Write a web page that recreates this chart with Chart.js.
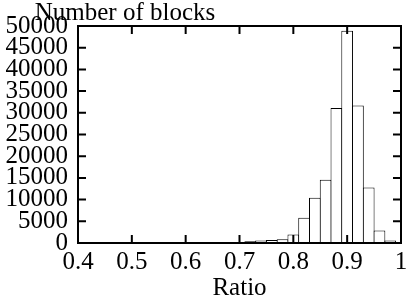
<!DOCTYPE html>
<html>
<head>
<meta charset="utf-8">
<script src="https://cdn.jsdelivr.net/npm/chart.js@4/dist/chart.umd.min.js"></script>
<style>
  html, body { margin: 0; padding: 0; background: #fff; }
  #wrap { width: 406px; height: 305px; }
</style>
</head>
<body>
<div id="wrap"><canvas id="hist"></canvas></div>
<script>
// ===== data: histogram of ratio, bin width 0.02 =====
const binCenters = [0.40, 0.42, 0.44, 0.46, 0.48, 0.50, 0.52, 0.54, 0.56, 0.58,
                    0.60, 0.62, 0.64, 0.66, 0.68, 0.70, 0.72, 0.74, 0.76, 0.78,
                    0.80, 0.82, 0.84, 0.86, 0.88, 0.90, 0.92, 0.94, 0.96, 0.98];
const blockCounts = [0, 0, 0, 0, 0, 0, 0, 0, 0, 0,
                     0, 0, 0, 80, 120, 200, 400, 600, 700, 850,
                     1950, 5800, 10400, 14600, 31100, 48900, 31700, 12800, 2900, 600];
const xTicks = { min: 0.4, max: 1.0, step: 0.1 };
const yTicks = { min: 0, max: 50000, step: 5000 };
const xTitle = 'Ratio';
const yTitle = 'Number of blocks';

const FONT = 'Liberation Serif';
Chart.defaults.font.family = FONT;
Chart.defaults.font.size = 25;
Chart.defaults.color = '#000';

// frame + inward ticks on all four sides (gnuplot style)
const framePlugin = {
    id: 'frame',
    afterDatasetsDraw(chart) {
        const { ctx, chartArea: a, scales: { x, y } } = chart;
        const len = 8;
        ctx.save();
        ctx.strokeStyle = '#000';
        ctx.lineWidth = 2;
        x.ticks.forEach(t => {
            const px = x.getPixelForValue(t.value);
            ctx.beginPath();
            ctx.moveTo(px, a.bottom); ctx.lineTo(px, a.bottom - len);
            ctx.moveTo(px, a.top); ctx.lineTo(px, a.top + len);
            ctx.stroke();
        });
        y.ticks.forEach(t => {
            const py = y.getPixelForValue(t.value);
            ctx.beginPath();
            ctx.moveTo(a.left, py); ctx.lineTo(a.left + len, py);
            ctx.moveTo(a.right, py); ctx.lineTo(a.right - len, py);
            ctx.stroke();
        });
        ctx.strokeRect(a.left, a.top, a.right - a.left, a.bottom - a.top);
        // y label sits above the axis
        ctx.fillStyle = '#000';
        ctx.font = '25px "' + FONT + '"';
        ctx.textAlign = 'center';
        ctx.textBaseline = 'alphabetic';
        ctx.fillText(yTitle, 125, 20);
        ctx.restore();
    }
};

new Chart(document.getElementById('hist'), {
    type: 'bar',
    data: {
        datasets: [{
            data: binCenters.map((c, i) => ({ x: c, y: blockCounts[i] })),
            backgroundColor: '#fff',
            borderColor: '#000',
            borderWidth: 1,
            borderSkipped: false,
            inflateAmount: 0,
            barPercentage: 1.09,
            categoryPercentage: 1
        }]
    },
    options: {
        responsive: true,
        maintainAspectRatio: false,
        animation: false,
        layout: { padding: { top: 26, right: 5, left: 0, bottom: 0 } },
        plugins: { legend: { display: false }, tooltip: { enabled: false } },
        scales: {
            x: {
                type: 'linear',
                offset: false,
                min: xTicks.min,
                max: xTicks.max,
                grid: { display: false, drawTicks: false, offset: false },
                border: { display: false },
                ticks: {
                    stepSize: xTicks.step, padding: 4, maxRotation: 0, autoSkip: false,
                    callback: v => String(Math.round(v * 10) / 10)
                },
                title: { display: true, text: xTitle, padding: { top: 0, bottom: 2 } },
                afterFit(scale) {
                    scale.height = 62;
                    scale.paddingLeft = 0;
                    scale.paddingRight = 0;
                }
            },
            y: {
                min: yTicks.min,
                max: yTicks.max,
                grid: { display: false, drawTicks: false },
                border: { display: false },
                ticks: {
                    stepSize: yTicks.step, padding: 10, autoSkip: false,
                    callback: v => String(v)
                },
                afterFit(scale) {
                    scale.width = 78;
                    scale.paddingTop = 0;
                    scale.paddingBottom = 0;
                }
            }
        }
    },
    plugins: [framePlugin]
});
</script>
</body>
</html>
